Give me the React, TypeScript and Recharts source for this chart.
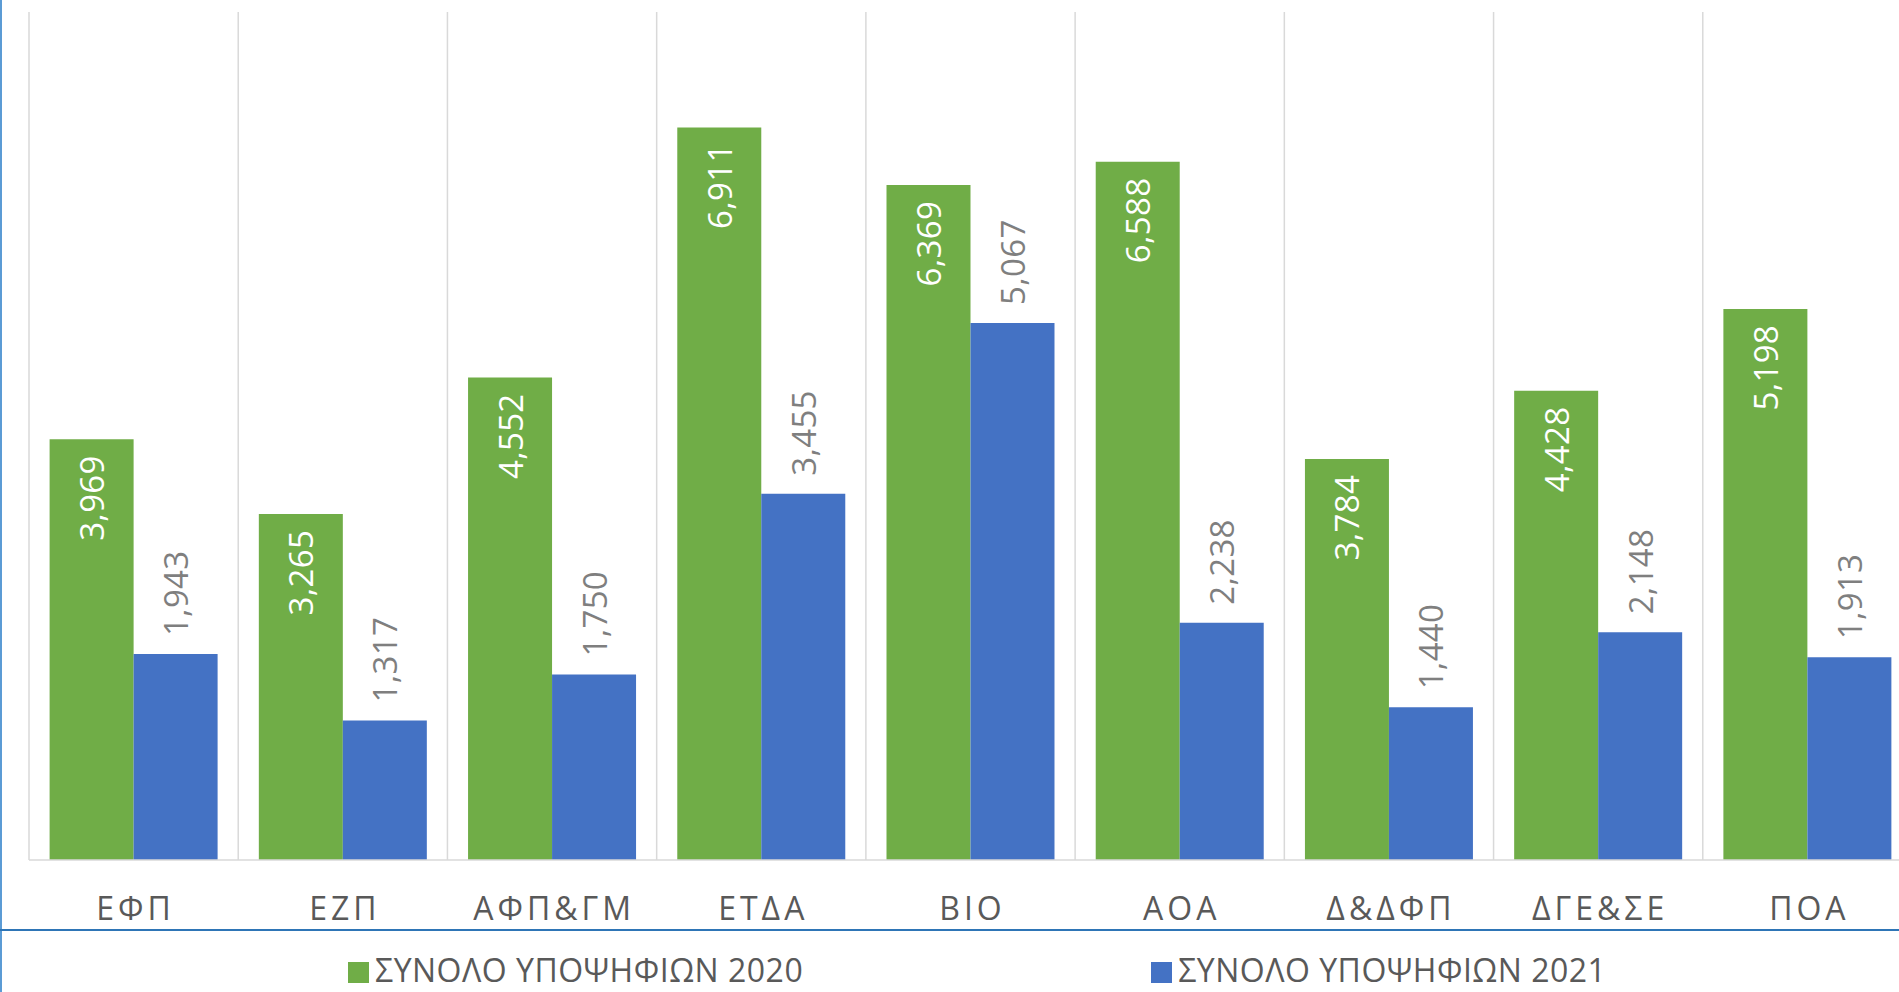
import React from 'react';
import { BarChart, Bar, XAxis, YAxis, CartesianGrid, LabelList, Legend } from 'recharts';

const categories = ['ΕΦΠ', 'ΕΖΠ', 'ΑΦΠ&ΓΜ', 'ΕΤΔΑ', 'ΒΙΟ', 'ΑΟΑ', 'Δ&ΔΦΠ', 'ΔΓΕ&ΣΕ', 'ΠΟΑ'];
const total2020 = [3969, 3265, 4552, 6911, 6369, 6588, 3784, 4428, 5198];
const total2021 = [1943, 1317, 1750, 3455, 5067, 2238, 1440, 2148, 1913];
const seriesNames = ['ΣΥΝΟΛΟ ΥΠΟΨΗΦΙΩΝ 2020', 'ΣΥΝΟΛΟ ΥΠΟΨΗΦΙΩΝ 2021'];

const data = categories.map((name, i) => ({
  name,
  y2020: total2020[i],
  y2021: total2021[i],
}));

const GREEN = '#70ad47';
const BLUE = '#4472c4';
const FONT = '"Open Sans", "DejaVu Sans", sans-serif';

const fmt = (v: number) => Number(v).toLocaleString('en-US');

// label inside the top of the green bars, reading upwards
const InsideLabel = (props: any) => {
  const { x, y, width, value } = props;
  const cx = x + width / 2;
  const ty = y + 16;
  return (
    <text
      x={cx}
      y={ty}
      transform={`rotate(-90, ${cx}, ${ty})`}
      textAnchor="end"
      dominantBaseline="central"
      fill="#ffffff"
      fontSize={33}
      fontFamily={FONT}
      letterSpacing={0.3}
    >
      {fmt(value)}
    </text>
  );
};

// label above the blue bars
const OutsideLabel = (props: any) => {
  const { x, y, width, value } = props;
  const cx = x + width / 2;
  const ty = y - 18;
  return (
    <text
      x={cx}
      y={ty}
      transform={`rotate(-90, ${cx}, ${ty})`}
      textAnchor="start"
      dominantBaseline="central"
      fill="#7f7f7f"
      fontSize={33}
      fontFamily={FONT}
      letterSpacing={0.3}
    >
      {fmt(value)}
    </text>
  );
};

const CategoryTick = (props: any) => {
  const { x, y, payload } = props;
  return (
    <text
      x={x + 2}
      y={y + 60}
      textAnchor="middle"
      fill="#595959"
      fontSize={32}
      fontFamily={FONT}
      letterSpacing={4}
    >
      {payload.value}
    </text>
  );
};

const LegendContent = () => (
  <div style={{ display: 'flex', alignItems: 'flex-start', fontFamily: FONT, fontSize: 32, color: '#595959' }}>
    {[GREEN, BLUE].map((c, i) => (
      <div key={i} style={{ display: 'flex', alignItems: 'flex-start', marginLeft: 348 }}>
        <span style={{ display: 'inline-block', width: 21, height: 21, background: c, marginTop: 4, marginRight: 6 }} />
        <span style={{ display: 'inline-block', height: 24, lineHeight: '24px', letterSpacing: 0.5, whiteSpace: 'nowrap' }}>
          {seriesNames[i]}
        </span>
      </div>
    ))}
  </div>
);

export default function App() {
  return (
    <div style={{ position: 'absolute', left: 0, top: 0, width: 1899, height: 992, overflow: 'hidden', background: '#fff' }}>
      <BarChart
        width={1930}
        height={992}
        data={data}
        margin={{ top: 12, right: 18, left: 29, bottom: 0 }}
        barCategoryGap="9.85%"
        barGap={0}
      >
        <CartesianGrid
          horizontal={false}
          stroke="#d9d9d9"
          strokeWidth={1.5}
          verticalCoordinatesGenerator={({ offset }: any) =>
            Array.from({ length: categories.length + 1 }, (_, i) => offset.left + (i * offset.width) / categories.length)
          }
        />
        <XAxis
          dataKey="name"
          height={132}
          tickLine={false}
          tickSize={0}
          tickMargin={0}
          axisLine={{ stroke: '#d9d9d9', strokeWidth: 1.5 }}
          tick={<CategoryTick />}
          interval={0}
        />
        <YAxis hide domain={[0, 8000]} />
        <Legend
          layout="horizontal"
          verticalAlign="middle"
          align="center"
          content={<LegendContent />}
          wrapperStyle={{ position: 'absolute', left: 0, top: 958, width: 1899 }}
        />
        <Bar dataKey="y2020" name={seriesNames[0]} fill={GREEN} isAnimationActive={false}>
          <LabelList dataKey="y2020" content={<InsideLabel />} />
        </Bar>
        <Bar dataKey="y2021" name={seriesNames[1]} fill={BLUE} isAnimationActive={false}>
          <LabelList dataKey="y2021" content={<OutsideLabel />} />
        </Bar>
      </BarChart>
      <div style={{ position: 'absolute', left: 0, top: 0, width: 2, height: 992, background: '#5b9bd5' }} />
      <div style={{ position: 'absolute', left: 0, top: 929, width: 1899, height: 2, background: '#2e75b6' }} />
    </div>
  );
}
